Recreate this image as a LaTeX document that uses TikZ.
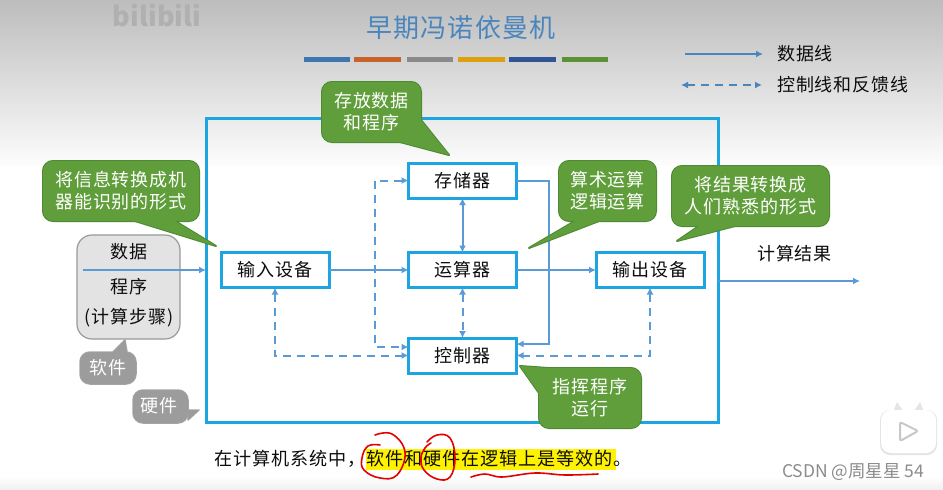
\documentclass[tikz,border=0pt]{standalone}
\usepackage{fontspec}
\setmainfont[LetterSpace=5]{Noto Sans CJK SC}
\newfontfamily\plaincjk{Noto Sans CJK SC}
\usetikzlibrary{arrows.meta,calc}
\definecolor{framec}{HTML}{1CA5E0}
\definecolor{linec}{HTML}{5B9BD5}
\definecolor{legc}{HTML}{4A86BE}
\definecolor{greenf}{HTML}{5F9E3A}
\definecolor{greend}{HTML}{4C8A34}
\definecolor{grayf}{HTML}{9C9C9C}
\definecolor{grayd}{HTML}{A6A6A6}
\definecolor{barb}{HTML}{3E77B0}
\definecolor{baro}{HTML}{C8642A}
\definecolor{barg}{HTML}{8A8A8A}
\definecolor{bary}{HTML}{DFA010}
\definecolor{bard}{HTML}{2F5597}
\definecolor{barn}{HTML}{5B9236}
\tikzset{
  x=1pt,y=-1pt,
  unit/.style={draw=framec,line width=3pt,fill=white,minimum width=108pt,minimum height=35pt,outer sep=0pt,inner sep=0pt,font=\fontsize{18}{22}\selectfont,text=black!95},
  conn/.style={draw=linec,line width=2pt,-{Latex[length=7pt,width=7pt]}},
  connboth/.style={draw=linec,line width=2pt,{Latex[length=7pt,width=7pt]}-{Latex[length=7pt,width=7pt]}},
  ctl/.style={draw=linec,line width=2pt,dash pattern=on 8pt off 6pt,-{Latex[length=7pt,width=7pt]}},
  ctlboth/.style={draw=linec,line width=2pt,dash pattern=on 8pt off 6pt,{Latex[length=7pt,width=7pt]}-{Latex[length=7pt,width=7pt]}},
  greenstyle/.style={edge/.style={draw=greend,line width=2pt,line join=round},body/.style={fill=greenf}},
  graystyle/.style={edge/.style={draw=grayd,line width=1.5pt,line join=round},body/.style={fill=grayf}},
  plain/.style={text=black!95,font=\fontsize{18}{22}\selectfont},
  calllab/.style={text=white,align=center,font=\fontsize{18}{22}\selectfont},
  redpen/.style={draw=red!90!black,line width=1.6pt,line cap=round}
}
\newcommand\callout[7]{%
  \begin{scope}[#1]
  \draw[edge,rounded corners=10pt] (#3,#4) rectangle (#5,#6);
  \draw[edge] #7 -- cycle;
  \fill[body,rounded corners=10pt] (#3,#4) rectangle (#5,#6);
  \fill[body] #7 -- cycle;
  \end{scope}}
\begin{document}
\begin{tikzpicture}
\useasboundingbox (0,0) rectangle (943,490);
% background
\fill[white] (0,0) rectangle (943,490);
\shade[top color=black!26,bottom color=black!1] (0,0) rectangle (943,165);
\shade[top color=white,bottom color=black!6] (0,476) rectangle (943,490);
% watermark
\node[text=black!31,font=\plaincjk\bfseries\fontsize{27}{27}\selectfont] (wm) at (157,15) {bilibili};
% title
\node[text=legc,font=\fontsize{26}{30}\selectfont] (title) at (461,28) {早期冯诺依曼机};
\fill[fill=barb] (304,57) rectangle (350,62);
\fill[fill=baro] (354,57) rectangle (401,62);
\fill[fill=barg] (407,57) rectangle (453,62);
\fill[fill=bary] (458,57) rectangle (505,62);
\fill[fill=bard] (509,57) rectangle (556,62);
\fill[fill=barn] (562,57) rectangle (608,62);
% legend
\coordinate (l1a) at (685,54); \coordinate (l1b) at (763,54);
\coordinate (l2a) at (681,85); \coordinate (l2b) at (762,85);
\draw[conn,draw=legc,line width=1.4pt] (l1a) -- (l1b);
\draw[ctlboth,draw=legc,line width=1.6pt] (l2a) -- (l2b);
\node[plain,anchor=west,inner sep=0pt] (leg1) at (777,54) {数据线};
\node[plain,anchor=west,inner sep=0pt] (leg2) at (777,85) {控制线和反馈线};
% hardware frame
\draw[draw=framec,line width=3pt] (206,118) rectangle (718,422);
% units
\node[unit] (mem) at (462.5,180.5) {存储器};
\node[unit] (alu) at (462.5,270) {运算器};
\node[unit] (cu)  at (462.5,355.5) {控制器};
\node[unit] (in)  at (275,270) {输入设备};
\node[unit] (out) at (650,270) {输出设备};
% connectors
\draw[conn] (in) -- (alu);
\draw[conn] (alu) -- (out);
\draw[connboth] (mem) -- (alu);
\draw[ctlboth] (alu) -- (cu);
\draw[conn] (mem.east) -- (549,180.5) |- ([yshift=11.5pt]cu.east);
\draw[ctlboth] (mem.west) -- (375,180.5) |- ([yshift=8.5pt]cu.west);
\draw[ctlboth] (in.south) |- (cu.west);
\draw[ctlboth] (out.south) |- (cu.east);
% software box
\draw[draw=black!40,fill=black!11,line width=1.2pt,rounded corners=15pt] (77,235) rectangle (180,339);
\node[plain] (sw1) at (129,252) {数据};
\node[plain] (sw2) at (129,287) {程序};
\node[plain] (sw3) at (129,318) {(计算步骤)};
\coordinate (inA) at (83,270); \coordinate (inB) at (206,270);
\draw[conn] (inA) -- (inB);
\coordinate (outA) at (718,281); \coordinate (outB) at (860,281);
\draw[conn] (outA) -- (outB);
\node[plain] (res) at (794.5,254) {计算结果};
% callouts
\callout{greenstyle}{c1}{322}{82}{421}{142}{(421,120)--(449,155)--(400,142)}
\node[calllab] (c1t) at (371.5,112) {存放数据\\和程序};
\callout{greenstyle}{c2}{43}{161}{199}{221}{(135,221)--(216,246)--(175,221)}
\node[calllab] (c2t) at (121,191) {将信息转换成机\\器能识别的形式};
\callout{greenstyle}{c3}{559}{161}{656}{221}{(599,221)--(529,248)--(575,221)}
\node[calllab] (c3t) at (607.5,191) {算术运算\\逻辑运算};
\callout{greenstyle}{c4}{672}{166}{829}{226}{(735,226)--(677,241)--(699,226)}
\node[calllab] (c4t) at (750.5,196) {将结果转换成\\人们熟悉的形式};
\callout{greenstyle}{c5}{539}{368}{641}{428}{(548,368)--(520,366)--(539,393)}
\node[calllab] (c5t) at (590,398) {指挥程序\\运行};
\callout{graystyle}{g1}{80}{352}{136}{384}{(113,352)--(125,340)--(127,352)}
\node[calllab] (g1t) at (108,368) {软件};
\callout{graystyle}{g2}{133}{390}{188}{423}{(188,410)--(199,410)--(188,420)}
\node[calllab] (g2t) at (159,406) {硬件};
% sentence
\fill[yellow] (366,449) rectangle (616,470);
\node[text=black!95,anchor=west,inner sep=0pt,font=\fontsize{18.1}{22}\selectfont] (sent) at (214,459) {在计算机系统中，软件和硬件在逻辑上是等效的。};
\draw[redpen] plot[smooth,tension=.7] coordinates {(375,435) (392,434) (405,452) (397,475) (380,478) (364,470) (362,458) (368,446) (380,445)};
\draw[redpen] plot[smooth,tension=.7] coordinates {(427,442) (437,435) (450,438) (455,458) (450,477) (437,479) (424,470) (421,458) (425,448) (431,443)};
\draw[redpen] plot[smooth,tension=.6] coordinates {(471,477) (485,474) (502,477) (535,473) (565,475) (598,474)};
% logo
\fill[black!10] (893,412) -- (897,402) -- (903,411) (924,412) -- (920,402) -- (914,411);
\fill[black!10,rounded corners=10pt] (880,410) rectangle (937,455);
\fill[white,rounded corners=10pt] (881,410) rectangle (936,453);
\draw[draw=black!22,fill=white,line width=2pt,line join=round,rounded corners=2pt] (900,422) -- (918,431) -- (900,441) -- cycle;
\node[text=black!45,anchor=west,inner sep=0pt,font=\plaincjk\fontsize{17.5}{20}\selectfont] (csdn) at (782,472) {CSDN @周星星 54};
\end{tikzpicture}
\end{document}
